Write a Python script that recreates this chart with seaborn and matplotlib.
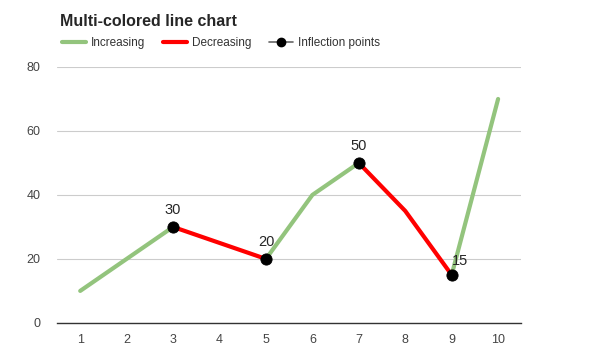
import pandas as pd
import matplotlib.pyplot as plt
import seaborn as sns
from matplotlib.lines import Line2D

#### DATA

x_vals = [1, 2, 3, 4, 5, 6, 7, 8, 9, 10]
y_vals = [10, 20, 30, 25, 20, 40, 50, 35, 15, 70]
inflection_x = [3, 5, 7, 9]
inflection_y = [30, 20, 50, 15]
y_ticks = [0, 20, 40, 60, 80]

green = "#93c47d"
red = "#ff0000"

df = pd.DataFrame({"x": x_vals, "y": y_vals})

##### PLOT

sns.set_style("white")
plt.rcParams["font.family"] = ["Liberation Sans", "DejaVu Sans"]

fig = plt.figure(figsize=(5.9, 3.62), dpi=100)
ax = fig.add_axes([0.0966, 0.108, 0.787, 0.707])

# split the line wherever it changes direction
start = 0
for i in range(1, len(x_vals)):
    last = i == len(x_vals) - 1
    if last or (y_vals[i + 1] - y_vals[i]) * (y_vals[i] - y_vals[i - 1]) < 0:
        seg = df.iloc[start:i + 1]
        col = green if seg["y"].iloc[-1] > seg["y"].iloc[0] else red
        sns.lineplot(data=seg, x="x", y="y", color=col, linewidth=3, ax=ax)
        start = i

sns.scatterplot(x=inflection_x, y=inflection_y, color="black", edgecolor="black",
                s=65, zorder=5, ax=ax)
for xi, yi in zip(inflection_x, inflection_y):
    if xi == 9:
        ax.annotate(str(yi), (xi, yi), xytext=(0, 5), textcoords="offset points",
                    ha="left", va="bottom", fontsize=10.5)
    else:
        ax.annotate(str(yi), (xi, yi), xytext=(0, 7), textcoords="offset points",
                    ha="center", va="bottom", fontsize=10.5)

ax.set_xlim(0.5, 10.5)
ax.set_ylim(0, 80)
ax.set_xticks(x_vals)
ax.set_yticks(y_ticks)
ax.yaxis.grid(True, color="#cccccc", linewidth=0.8)
ax.set_axisbelow(True)
ax.tick_params(axis="both", colors="#444444", labelsize=9, length=0, pad=8)
ax.tick_params(axis="y", pad=12)
for s in ["top", "right", "left"]:
    ax.spines[s].set_visible(False)
ax.spines["bottom"].set_color("#333333")
ax.spines["bottom"].set_linewidth(1)
ax.set_xlabel("")
ax.set_ylabel("")

fig.text(0.101, 0.94, "Multi-colored line chart", fontsize=11.5, fontweight="bold", va="center")

handles = [
    Line2D([], [], color=green, linewidth=3),
    Line2D([], [], color=red, linewidth=3),
    Line2D([], [], color="#666666", linewidth=1.2, marker="o",
           markerfacecolor="black", markeredgecolor="black", markersize=6),
]
fig.legend(handles, ["Increasing", "Decreasing", "Inflection points"],
           loc="center left", bbox_to_anchor=(0.087, 0.882), ncol=3, frameon=False,
           fontsize=8.5, handlelength=2.0, columnspacing=1.55, handletextpad=0.42,
           labelcolor="#333333")

plt.savefig("out.png", dpi=100)
